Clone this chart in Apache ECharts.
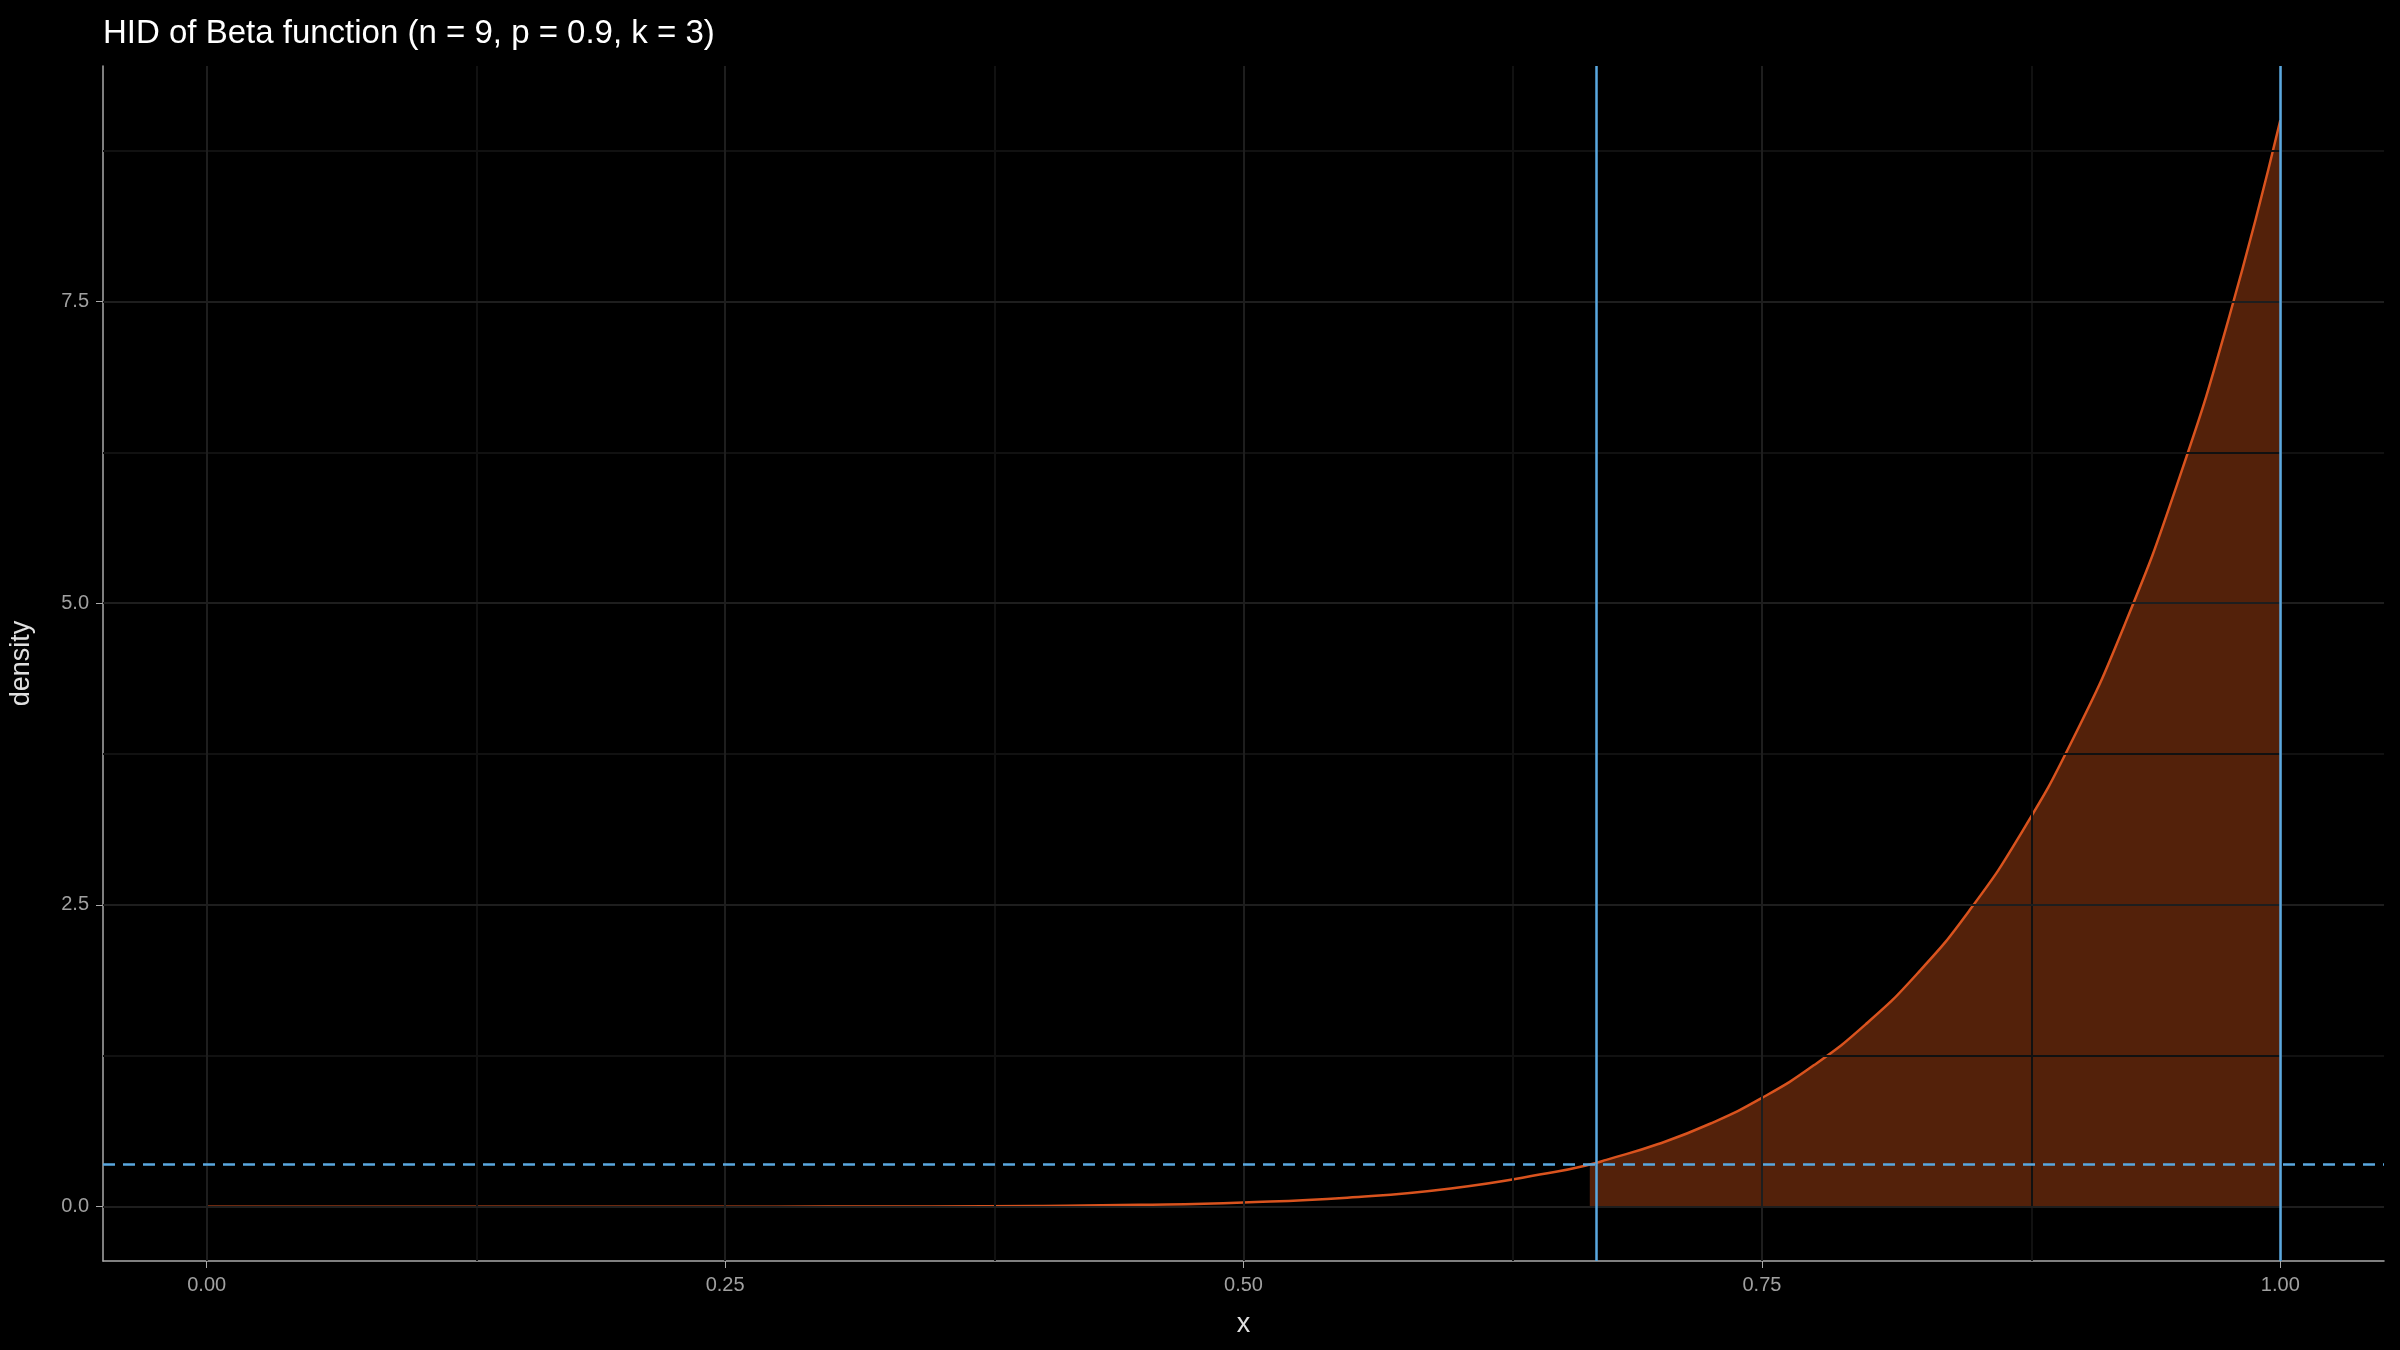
<!DOCTYPE html>
<html>
<head>
<meta charset="utf-8">
<script src="https://cdn.jsdelivr.net/npm/echarts@6/dist/echarts.min.js"></script>
<style>html,body{margin:0;background:#000;}#c{width:2400px;height:1350px;}</style>
</head>
<body>
<div id="c"></div>
<script>
// density curve
var xs = [0, 0.05, 0.1, 0.15, 0.2, 0.25, 0.3, 0.35, 0.4, 0.45, 0.5, 0.55, 0.6, 0.65, 0.667, 0.675, 0.7, 0.725, 0.75, 0.775, 0.8, 0.825, 0.85, 0.875, 0.9, 0.925, 0.95, 0.975, 1];
var ys = [0, 0, 0, 0, 0, 0, 0.0005, 0.002, 0.006, 0.015, 0.035, 0.075, 0.151, 0.287, 0.35, 0.388, 0.519, 0.687, 0.901, 1.171, 1.51, 1.932, 2.452, 3.093, 3.874, 4.824, 5.971, 7.35, 9];
var hdiLow = 0.667, hdiHigh = 1.0, hdiDensity = 0.35;
var xTicks = [0, 0.25, 0.5, 0.75, 1];
var xMinor = [0.125, 0.375, 0.625, 0.875];
var yTicks = [0, 2.5, 5, 7.5];
var yMinor = [1.25, 3.75, 6.25, 8.75];

var curve = xs.map(function (x, i) { return [x, ys[i]]; });
var shaded = curve.filter(function (p) { return p[0] >= hdiLow; });

function vLines(vals, color) {
  return vals.map(function (v) { return { xAxis: v, lineStyle: { color: color, type: 'solid', width: 2 } }; });
}
function hLines(vals, color) {
  return vals.map(function (v) { return { yAxis: v, lineStyle: { color: color, type: 'solid', width: 2 } }; });
}

var chart = echarts.init(document.getElementById('c'));
chart.setOption({
  backgroundColor: '#000',
  animation: false,
  title: { text: 'HID of Beta function (n = 9, p = 0.9, k = 3)', left: 98, top: 12,
    textStyle: { color: '#fff', fontSize: 33, fontWeight: 'normal', fontFamily: 'Liberation Sans' } },
  grid: { left: 100, right: 16, top: 66, bottom: 89 },
  xAxis: { type: 'value', min: -0.05, max: 1.05, name: 'x', nameLocation: 'middle', nameGap: 50,
    nameTextStyle: { color: '#e0e0e0', fontSize: 27, fontFamily: 'Liberation Sans' },
    axisLine: { show: true, onZero: false, lineStyle: { color: '#aaa', width: 1.5 } },
    axisTick: { show: true, customValues: xTicks, length: 7, lineStyle: { color: '#aaa' } },
    axisLabel: { customValues: xTicks, color: '#a0a0a0', fontSize: 20, margin: 14,
      formatter: function (v) { return v.toFixed(2); } },
    splitLine: { show: false } },
  yAxis: { type: 'value', min: -0.45, max: 9.45, name: 'density', nameLocation: 'middle', nameGap: 68,
    nameTextStyle: { color: '#e0e0e0', fontSize: 27, fontFamily: 'Liberation Sans' },
    axisLine: { show: true, onZero: false, lineStyle: { color: '#aaa', width: 1.5 } },
    axisTick: { show: true, customValues: yTicks, length: 7, lineStyle: { color: '#aaa' } },
    axisLabel: { customValues: yTicks, color: '#a0a0a0', fontSize: 20, margin: 14,
      formatter: function (v) { return v.toFixed(1); } },
    splitLine: { show: false } },
  series: [
    { type: 'line', data: [], silent: true,
      markLine: { symbol: 'none', silent: true, label: { show: false },
        data: vLines(xMinor, '#111').concat(hLines(yMinor, '#111'), vLines(xTicks, '#1e1e1e'), hLines(yTicks, '#1e1e1e')) } },
    { type: 'line', data: shaded, smooth: true, showSymbol: false, lineStyle: { width: 0 },
      areaStyle: { color: '#53210a', opacity: 1 } },
    { type: 'line', data: curve, smooth: true, showSymbol: false, lineStyle: { color: '#d9531e', width: 2.5 }, z: 3,
      markLine: { symbol: 'none', silent: true, label: { show: false },
        data: [
          { xAxis: hdiLow, lineStyle: { color: '#5aa8e0', type: 'solid', width: 2.5 } },
          { xAxis: hdiHigh, lineStyle: { color: '#5aa8e0', type: 'solid', width: 2.5 } },
          { yAxis: hdiDensity, lineStyle: { color: '#5aa8e0', type: [12, 8], width: 2.5 } }
        ] } }
  ]
});
</script>
</body>
</html>
